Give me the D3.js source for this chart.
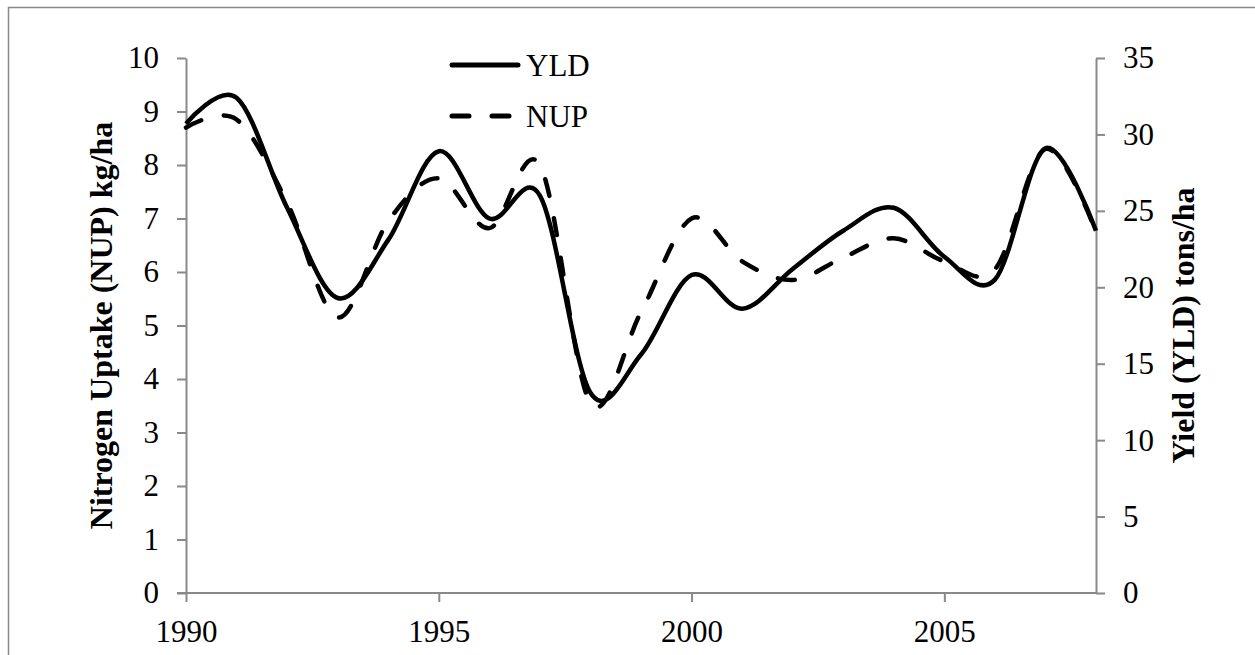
<!DOCTYPE html>
<html>
<head>
<meta charset="utf-8">
<script src="https://cdn.jsdelivr.net/npm/d3@7"></script>
<style>
  body { margin: 0; background: #fff; }
  svg text { font-family: "Liberation Serif", "Times New Roman", serif; fill: #000; }
</style>
</head>
<body>
<div id="chart"></div>
<script>
var width = 1255,
    height = 655;

// ******* data ********* //
var years = [1990, 1991, 1992, 1993, 1994, 1995, 1996, 1997, 1998, 1999,
             2000, 2001, 2002, 2003, 2004, 2005, 2006, 2007, 2008];
// yield, tons/ha (right axis)
var yld = [30.7, 32.4, 25.2, 19.3, 23.1, 28.9, 24.5, 26.0, 13.1, 15.6,
           20.8, 18.6, 21.2, 23.7, 25.2, 22.0, 20.5, 29.1, 23.7];
// nitrogen uptake, kg/ha (left axis)
var nup = [8.7, 8.85, 7.3, 5.15, 6.95, 7.75, 6.82, 8.0, 3.55, 5.25,
           7.0, 6.2, 5.85, 6.27, 6.63, 6.2, 6.05, 8.3, 6.75];
var xTicks = [1990, 1995, 2000, 2005];
var leftTicks = [0, 1, 2, 3, 4, 5, 6, 7, 8, 9, 10];
var rightTicks = [0, 5, 10, 15, 20, 25, 30, 35];

var margin = {left: 186, right: 1096, top: 58, bottom: 593};
var axisColor = "#898989";

var svg = d3.select("#chart")
    .append("svg")
    .attr("width", width)
    .attr("height", height);

// chart area border (only top & left visible in crop)
svg.append("path")
    .attr("d", "M8.5," + height + "V7.5H" + width)
    .attr("fill", "none")
    .attr("stroke", axisColor)
    .attr("stroke-width", 1.5);

var x = d3.scaleLinear().domain([1990, 2008]).range([margin.left, margin.right]);
var yL = d3.scaleLinear().domain([0, 10]).range([margin.bottom, margin.top]);
var yR = d3.scaleLinear().domain([0, 35]).range([margin.bottom, margin.top]);

// ******* axes ********* //
function styleAxis(g) {
    g.selectAll("path").attr("stroke", axisColor).attr("stroke-width", 2);
    g.selectAll("line").attr("stroke", axisColor).attr("stroke-width", 2);
    g.selectAll("text")
        .style("font-family", "'Liberation Serif', 'Times New Roman', serif")
        .style("font-size", "31px")
        .attr("fill", "#000");
}

var gx = svg.append("g")
    .attr("transform", "translate(0," + margin.bottom + ")")
    .call(d3.axisBottom(x).tickValues(xTicks).tickFormat(d3.format("d"))
        .tickSizeInner(9).tickSizeOuter(0).tickPadding(18));
styleAxis(gx);

var gl = svg.append("g")
    .attr("transform", "translate(" + margin.left + ",0)")
    .call(d3.axisLeft(yL).tickValues(leftTicks).tickSizeInner(9).tickSizeOuter(0).tickPadding(18));
styleAxis(gl);
// extend the baseline to the left tick like Excel does
gx.select("path").attr("d", "M" + (margin.left - 9) + ",0H" + margin.right);

var gr = svg.append("g")
    .attr("transform", "translate(" + margin.right + ",0)")
    .call(d3.axisRight(yR).tickValues(rightTicks).tickSizeInner(9).tickSizeOuter(0).tickPadding(18));
styleAxis(gr);

// ******* axis titles ********* //
svg.append("text")
    .attr("transform", "translate(112," + ((margin.top + margin.bottom) / 2) + ") rotate(-90)")
    .attr("text-anchor", "middle")
    .style("font-size", "32px")
    .style("font-weight", "bold")
    .text("Nitrogen Uptake (NUP) kg/ha");

svg.append("text")
    .attr("transform", "translate(1194," + ((margin.top + margin.bottom) / 2) + ") rotate(-90)")
    .attr("text-anchor", "middle")
    .style("font-size", "32px")
    .style("font-weight", "bold")
    .text("Yield (YLD) tons/ha");

// ******* lines ********* //
var lineYld = d3.line()
    .x(function(d, i) { return x(years[i]); })
    .y(function(d) { return yR(d); })
    .curve(d3.curveCatmullRom.alpha(0));

var lineNup = d3.line()
    .x(function(d, i) { return x(years[i]); })
    .y(function(d) { return yL(d); })
    .curve(d3.curveCatmullRom.alpha(0));

svg.append("path")
    .datum(nup)
    .attr("d", lineNup)
    .attr("fill", "none")
    .attr("stroke", "#000")
    .attr("stroke-width", 4.5)
    .attr("stroke-linecap", "round")
    .attr("stroke-dasharray", "17,23");

svg.append("path")
    .datum(yld)
    .attr("d", lineYld)
    .attr("fill", "none")
    .attr("stroke", "#000")
    .attr("stroke-width", 4.5)
    .attr("stroke-linejoin", "round");

// ******* legend ********* //
var legend = svg.append("g").attr("class", "legend");
var legendItems = [
    {label: "YLD", dash: null, y: 65},
    {label: "NUP", dash: "17,23", y: 116}
];
legendItems.forEach(function(d) {
    legend.append("line")
        .attr("x1", 452).attr("x2", 518)
        .attr("y1", d.y).attr("y2", d.y)
        .attr("stroke", "#000")
        .attr("stroke-width", 5)
        .attr("stroke-linecap", "round")
        .attr("stroke-dasharray", d.dash);
    legend.append("text")
        .attr("x", 526)
        .attr("y", d.y + 11)
        .style("font-size", "31px")
        .text(d.label);
});
</script>
</body>
</html>
